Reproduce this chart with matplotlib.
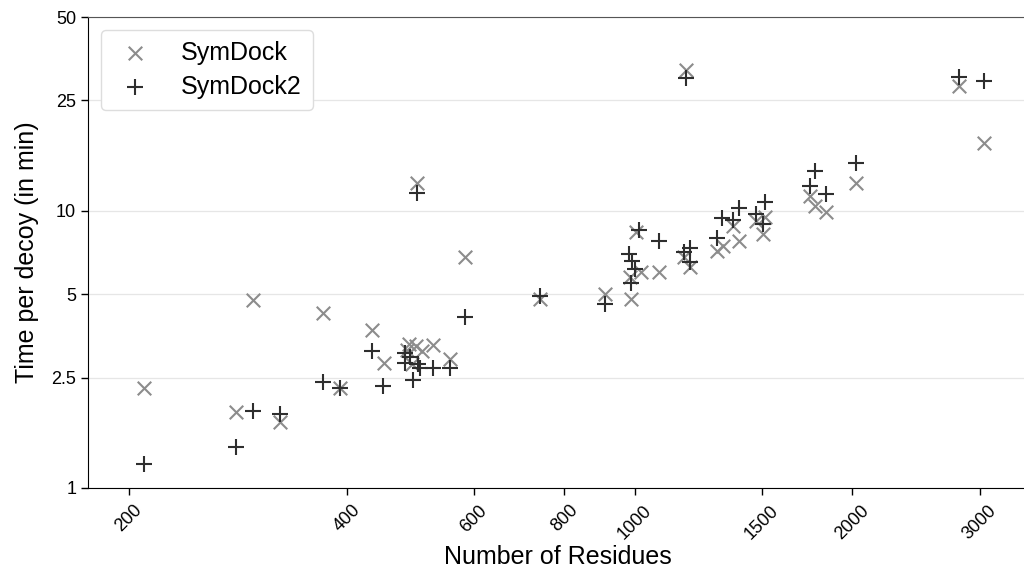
import matplotlib
matplotlib.use("Agg")
import matplotlib.pyplot as plt
from matplotlib.ticker import FixedLocator, FixedFormatter, NullLocator

plt.rcParams['font.family'] = ['Liberation Sans', 'DejaVu Sans']

# SymDock timings (residues, minutes per decoy)
symdock_res = [210, 281, 297, 323, 371, 392, 433, 450, 484, 488, 492, 499, 501,
               509, 526, 556, 582, 739, 910, 988, 986, 1006, 1021, 1081, 1169,
               1177, 1193, 1302, 1327, 1368, 1396, 1472, 1513, 1503, 1747, 1775,
               1842, 2021, 2806, 3046]
symdock_time = [2.30, 1.88, 4.75, 1.73, 4.27, 2.30, 3.73, 2.82, 3.15, 3.32, 2.81,
                3.25, 12.6, 3.12, 3.27, 2.93, 6.8, 4.8, 5.0, 4.81, 5.75, 8.36,
                6.0, 6.0, 6.79, 32.1, 6.29, 7.14, 7.48, 8.83, 7.80, 9.15, 9.46,
                8.25, 11.3, 10.4, 9.92, 12.6, 28.2, 17.6]

# SymDock2 timings
symdock2_res = [210, 281, 297, 323, 371, 392, 433, 449, 481, 481, 490, 502, 505,
                494, 501, 526, 556, 582, 739, 910, 982, 993, 1001, 989, 1015,
                1081, 1169, 1177, 1193, 1193, 1302, 1323, 1368, 1396, 1472, 1513,
                1503, 1747, 1775, 1842, 2021, 2806, 3046]
symdock2_time = [1.22, 1.40, 1.90, 1.85, 2.41, 2.30, 3.11, 2.33, 3.08, 2.83, 2.97,
                 2.80, 2.71, 2.46, 11.6, 2.72, 2.72, 4.13, 4.92, 4.6, 6.99, 6.6,
                 6.15, 5.5, 8.55, 7.76, 7.08, 30.2, 7.34, 6.52, 7.98, 9.38, 9.26,
                 10.2, 9.73, 10.8, 8.96, 12.3, 13.9, 11.5, 14.9, 30.3, 29.5]

x_ticks = [200, 400, 600, 800, 1000, 1500, 2000, 3000]
y_ticks = [1, 2.5, 5, 10, 25, 50]
y_tick_labels = ['1', '2.5', '5', '10', '25', '50']

fig = plt.figure(figsize=(10.24, 5.81), dpi=100)
ax = fig.add_axes([88 / 1024, 93 / 581, 940 / 1024, 471 / 581])

ax.scatter(symdock_res, symdock_time, marker='x', s=95, color='#8c8c8c',
           linewidths=1.5, label='SymDock', zorder=3)
ax.scatter(symdock2_res, symdock2_time, marker='+', s=125, color='#2e2e2e',
           linewidths=1.5, label='SymDock2', zorder=4)

ax.set_xscale('log')
ax.set_yscale('log')
ax.set_xlim(175.5, 3500)
ax.set_ylim(1, 50)

ax.xaxis.set_major_locator(FixedLocator(x_ticks))
ax.xaxis.set_major_formatter(FixedFormatter([str(t) for t in x_ticks]))
ax.xaxis.set_minor_locator(NullLocator())
ax.yaxis.set_major_locator(FixedLocator(y_ticks))
ax.yaxis.set_major_formatter(FixedFormatter(y_tick_labels))
ax.yaxis.set_minor_locator(NullLocator())

for lab in ax.get_xticklabels():
    lab.set_rotation(45)
    lab.set_ha('center')
    lab.set_va('top')
ax.tick_params(axis='both', labelsize=13, length=5, width=1, color='black')
ax.tick_params(axis='x', pad=5)

ax.grid(axis='y', color='#e6e6e6', linewidth=0.9)
ax.set_axisbelow(True)
ax.spines['right'].set_visible(False)
ax.spines['top'].set_color('#555555')

ax.set_xlabel('Number of Residues', fontsize=18, labelpad=2)
ax.set_ylabel('Time per decoy (in min)', fontsize=18, labelpad=9)

ax.legend(loc='upper left', fontsize=18, handlelength=1.85, handletextpad=0.9,
          borderpad=0.45, labelspacing=0.4, framealpha=1, edgecolor='#dddddd',
          bbox_to_anchor=(0.0, 1.0))

fig.savefig('out.png', dpi=100)
